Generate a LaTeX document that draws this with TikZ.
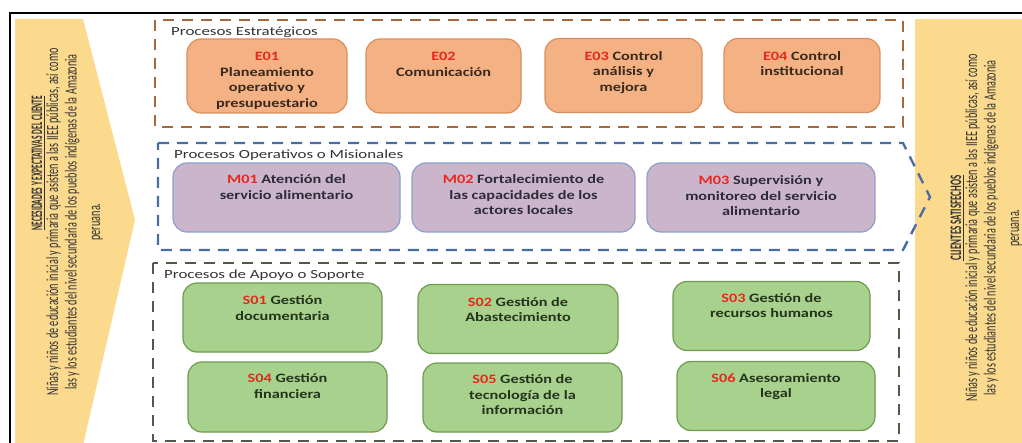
\documentclass[tikz,border=0pt]{standalone}
\usepackage{fontspec}
\setmainfont{Carlito}
\newfontfamily\boxf[FakeStretch=1.27]{Carlito}
\newfontfamily\titf[FakeStretch=1.35]{Carlito}
\newfontfamily\sidef[FakeStretch=0.6]{Carlito}
\newfontfamily\sidetl[FakeStretch=0.47]{Carlito}
\newfontfamily\sidetr[FakeStretch=0.56]{Carlito}
\definecolor{numred}{HTML}{E8281E}
\definecolor{eFill}{HTML}{F4B183}
\definecolor{eDraw}{HTML}{DB8F5C}
\definecolor{mFill}{HTML}{CBB5CB}
\definecolor{mDraw}{HTML}{8C9FCB}
\definecolor{sFill}{HTML}{A9D18E}
\definecolor{sDraw}{HTML}{6E9B4E}
\definecolor{brownDash}{HTML}{A5693F}
\definecolor{blueDash}{HTML}{4A6CA5}
\definecolor{greenDash}{HTML}{4E5B48}
\definecolor{sideY}{HTML}{FBDA8E}
\definecolor{eTxt}{HTML}{3A2A1E}
\definecolor{mTxt}{HTML}{2E2B38}
\definecolor{sTxt}{HTML}{24331B}
\newcommand{\nr}[1]{\textcolor{numred}{#1}}
\tikzset{
  procbox/.style={rectangle, rounded corners=14pt, line width=1.2pt, inner sep=0pt},
  ebox/.style={procbox, fill=eFill, draw=eDraw, minimum height=74pt},
  mbox/.style={procbox, fill=mFill, draw=mDraw, minimum height=69pt},
  sbox/.style={procbox, fill=sFill, draw=sDraw, minimum height=69pt},
  btxt/.style={anchor=north, align=center, inner sep=0pt, font=\boxf\bfseries\fontsize{12.8}{15.5}\selectfont},
  grouptitle/.style={anchor=west, inner sep=0pt, text=black!80, font=\titf\fontsize{12.5}{15}\selectfont},
  groupdash/.style={line width=2.4pt, dash pattern=on 11pt off 8pt},
  sidebody/.style={rotate=90, anchor=north, align=center, inner sep=0pt, text=black!80, font=\sidef\fontsize{17}{18.5}\selectfont},
}
\begin{document}
\begin{tikzpicture}[x=1pt,y=-1pt]
\useasboundingbox (0,0) rectangle (1022,443);
\fill[white] (0,0) rectangle (1022,443);
% frame
\draw[line width=2.2pt] (10,445) -- (10,13) -- (1024,13);
% side panels
\fill[sideY] (15,19) -- (83,19) -- (135,220) -- (83,445) -- (15,445) -- cycle;
\fill[sideY] (915,19) rectangle (1024,445);
% left panel texts
\node[rotate=90, inner sep=0pt, text=black!80, font=\sidetl\bfseries\fontsize{16}{18}\selectfont] (ltitle) at (38,163) {\underline{NECESIDADES Y EXPECTATIVAS DEL CLIENTE}};
\node[sidebody] (lbody) at (46,222) {Niñas y niños de educación inicial y primaria que asisten a las IIEE públicas, así como\\las y los estudiantes del nivel secundaria de los pueblos indígenas de la Amazonia\\[5pt]peruana.};
% right panel texts
\node[rotate=90, inner sep=0pt, text=black!80, font=\sidetr\bfseries\fontsize{16}{18}\selectfont] (rtitle) at (957,218) {\underline{CLIENTES SATISFECHOS}};
\node[sidebody] (rbody) at (965,228) {Niñas y niños de educación inicial y primaria que asisten a las IIEE públicas, así como\\las y los estudiantes del nivel secundaria de los pueblos indígenas de la Amazonia\\[5pt]peruana.};
% group frames
\draw[groupdash, draw=brownDash] (155,20) rectangle (903,127);
\draw[groupdash, draw=blueDash] (158,143) -- (903,143) -- (930,197) -- (903,250) -- (158,250) -- cycle;
\draw[groupdash, draw=greenDash] (153,263) rectangle (899,441);
% group titles
\node[grouptitle] (gE) at (171,32) {Procesos Estratégicos};
\node[grouptitle] (gM) at (174,155) {Procesos Operativos o Misionales};
\node[grouptitle] (gS) at (164,275) {Procesos de Apoyo o Soporte};
% strategic
\node[ebox, minimum width=160pt] (e1) at (267,76) {};
\node[ebox, minimum width=155pt] (e2) at (443.5,76) {};
\node[ebox, minimum width=157pt] (e3) at (623.5,75.5) {};
\node[ebox, minimum width=156pt] (e4) at (802,75.5) {};
\node[btxt, text=eTxt] (e1t) at ([yshift=-14pt]e1.north) {\nr{E01}\\Planeamiento\\operativo y\\presupuestario};
\node[btxt, text=eTxt] (e2t) at ([yshift=-14pt]e2.north) {\nr{E02}\\Comunicación};
\node[btxt, text=eTxt] (e3t) at ([yshift=-13pt]e3.north) {\nr{E03} Control\\análisis y\\mejora};
\node[btxt, text=eTxt] (e4t) at ([yshift=-13pt]e4.north) {\nr{E04} Control\\institucional};
% operative
\node[mbox, minimum width=227pt] (m1) at (286.5,197.5) {};
\node[mbox, minimum width=223pt] (m2) at (523.5,197.5) {};
\node[mbox, minimum width=228pt] (m3) at (761,197.5) {};
\node[btxt, text=mTxt] (m1t) at ([yshift=-12pt]m1.north) {\nr{M01} Atención del\\servicio alimentario};
\node[btxt, text=mTxt] (m2t) at ([yshift=-12pt]m2.north) {\nr{M02} Fortalecimiento de\\las capacidades de los\\actores locales};
\node[btxt, text=mTxt] (m3t) at ([yshift=-13pt]m3.north) {\nr{M03} Supervisión y\\monitoreo del servicio\\alimentario};
% support
\node[sbox, minimum width=199pt] (s1) at (282.5,317.5) {};
\node[sbox, minimum width=200pt] (s2) at (518,319) {};
\node[sbox, minimum width=197pt] (s3) at (771.5,316) {};
\node[sbox, minimum width=199pt, minimum height=70pt] (s4) at (287.5,397) {};
\node[sbox, minimum width=199pt] (s5) at (522.5,397.5) {};
\node[sbox, minimum width=198pt] (s6) at (776,396) {};
\node[btxt, text=sTxt] (s1t) at ([yshift=-13pt]s1.north) {\nr{S01} Gestión\\documentaria};
\node[btxt, text=sTxt] (s2t) at ([yshift=-13pt]s2.north) {\nr{S02} Gestión de\\Abastecimiento};
\node[btxt, text=sTxt] (s3t) at ([yshift=-12pt]s3.north) {\nr{S03} Gestión de\\recursos humanos};
\node[btxt, text=sTxt] (s4t) at ([yshift=-12pt]s4.north) {\nr{S04} Gestión\\financiera};
\node[btxt, text=sTxt] (s5t) at ([yshift=-12pt]s5.north) {\nr{S05} Gestión de\\tecnología de la\\información};
\node[btxt, text=sTxt] (s6t) at ([yshift=-12pt]s6.north) {\nr{S06} Asesoramiento\\legal};
\end{tikzpicture}
\end{document}
